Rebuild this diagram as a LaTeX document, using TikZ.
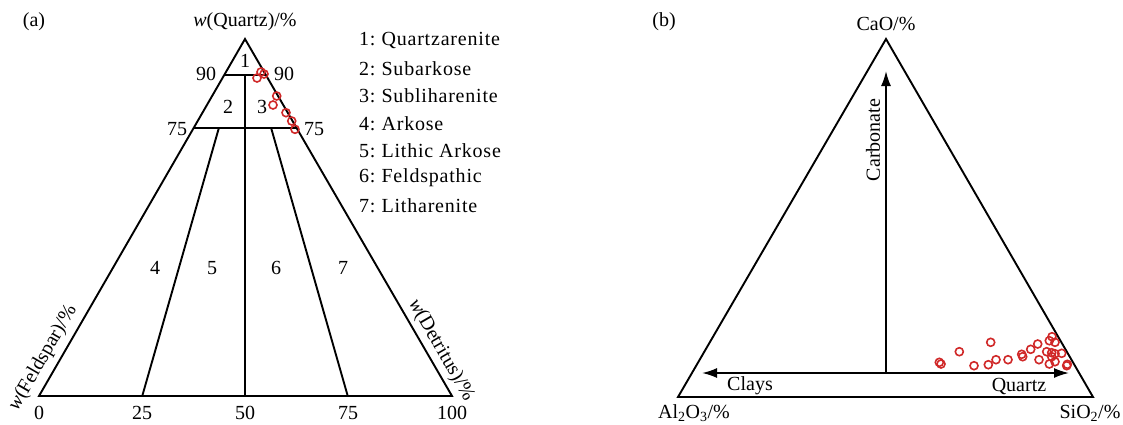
\documentclass[tikz,border=0pt]{standalone}
\usepackage{fontspec}
\setmainfont{Liberation Serif}
\usetikzlibrary{arrows.meta}
\definecolor{ptred}{RGB}{208,40,40}
\begin{document}
\begin{tikzpicture}[x=1pt,y=-1pt,
  font=\fontsize{20}{24}\selectfont,
  frame/.style={line width=1.9pt, black, line join=miter},
  pt/.style={draw=ptred, line width=1.6pt, circle, inner sep=0pt, minimum size=8pt},
  lbl/.style={inner sep=0pt, anchor=center},
  leg/.style={inner sep=0pt, anchor=west, font=\fontsize{20}{24}\selectfont\addfontfeatures{LetterSpace=4}},
  tip/.style={-{Latex[length=15pt,width=10pt]}},
  dtip/.style={{Latex[length=15pt,width=10pt]}-{Latex[length=15pt,width=10pt]}}]
\useasboundingbox (0,0) rectangle (1123,424);

% ---------------- panel (a) ----------------
\coordinate (aA) at (245,39);
\coordinate (aL) at (39,396);
\coordinate (aR) at (452,396);
\coordinate (a90l) at (224.35,74.7);
\coordinate (a90r) at (265.65,74.7);
\coordinate (a90m) at (245,74.7);
\coordinate (a75l) at (193.4,128.25);
\coordinate (a75r) at (296.6,128.25);
\coordinate (a75a) at (218.8,128.25);
\coordinate (a75b) at (271.2,128.25);
\coordinate (a25) at (142.25,396);
\coordinate (a50) at (245,396);
\coordinate (a75) at (347.75,396);

\draw[frame] (aA) -- (aL) -- (aR) -- cycle;
\draw[frame] (a90l) -- (a90r);
\draw[frame] (a75l) -- (a75r);
\draw[frame] (a90m) -- (a50);
\draw[frame] (a75a) -- (a25);
\draw[frame] (a75b) -- (a75);

\node[lbl] (la) at (34,22) {(a)};
\node[lbl] (lq) at (245,22) {\textit{w}(Quartz)/\%};
\node[lbl] (n1) at (245,61) {1};
\node[lbl] (n2) at (228,107) {2};
\node[lbl] (n3) at (262,107) {3};
\node[lbl] (n4) at (155,268) {4};
\node[lbl] (n5) at (212,268) {5};
\node[lbl] (n6) at (276,268) {6};
\node[lbl] (n7) at (343,268) {7};
\node[lbl] (t90l) at (206,74) {90};
\node[lbl] (t90r) at (284,74) {90};
\node[lbl] (t75l) at (177,129) {75};
\node[lbl] (t75r) at (314,129) {75};
\node[lbl] (b0) at (39,413) {0};
\node[lbl] (b25) at (142,413) {25};
\node[lbl] (b50) at (245,413) {50};
\node[lbl] (b75) at (348,413) {75};
\node[lbl] (b100) at (452,413) {100};
\node[lbl, rotate=60] (lf) at (43,358) {\textit{w}(Feldspar)/\%};
\node[lbl, rotate=-60] (ld) at (441,350) {\textit{w}(Detritus)/\%};

\node[leg] (g1) at (359,40) {1:\hspace{0.3em}Quartzarenite};
\node[leg] (g2) at (359,68.3) {2:\hspace{0.3em}Subarkose};
\node[leg] (g3) at (359,96) {3:\hspace{0.3em}Subliharenite};
\node[leg] (g4) at (359,123.3) {4:\hspace{0.3em}Arkose};
\node[leg] (g5) at (359,151) {5:\hspace{0.3em}Lithic Arkose};
\node[leg] (g6) at (359,178) {6:\hspace{0.3em}Feldspathic};
\node[leg] (g7) at (359,206) {7:\hspace{0.3em}Litharenite};

\foreach \p [count=\i] in {(261,72),(264,74),(257,78),(276.7,96),(273,105),(286,112.7),(291.7,121),(295,129.3)}
  \node[pt] (pa\i) at \p {};

% ---------------- panel (b) ----------------
\coordinate (bA) at (886,39);
\coordinate (bL) at (678,397);
\coordinate (bR) at (1093,397);
\coordinate (bC) at (886,373);
\coordinate (bT) at (886,71);
\coordinate (bCl) at (702,373);
\coordinate (bQz) at (1069,373);

\draw[frame] (bA) -- (bL) -- (bR) -- cycle;
\draw[line width=1.8pt, dtip] (bCl) -- (bQz);
\draw[line width=1.8pt, tip] (bC) -- (bT);

\node[lbl] (lb) at (664,22) {(b)};
\node[lbl] (lcao) at (886,24) {CaO/\%};
\node[lbl] (lal) at (694,413) {Al\textsubscript{2}O\textsubscript{3}/\%};
\node[lbl] (lsi) at (1090,413) {SiO\textsubscript{2}/\%};
\node[lbl, rotate=90] (lcarb) at (873,140) {Carbonate};
\node[lbl] (lclay) at (750,386) {Clays};
\node[lbl] (lqz) at (1019,386) {Quartz};

\foreach \p [count=\i] in {(939.3,362.3),(941,364),(959.3,351.7),(990.7,342.3),(974,365.7),(988.3,364.7),(996,359.7),(1008,359.7),(1021.7,354.3),(1022.7,356.7),(1030.7,349.3),(1037.7,344),(1039,359.7),(1049.3,340.7),(1052,336.7),(1055,342.3),(1046.7,351.7),(1051.7,352.7),(1055,353.7),(1061.7,353.3),(1049.3,364),(1055,361.7),(1066.7,365.7),(1067.3,364.3),(1051.7,356.7)}
  \node[pt] (pb\i) at \p {};
\end{tikzpicture}
\end{document}
